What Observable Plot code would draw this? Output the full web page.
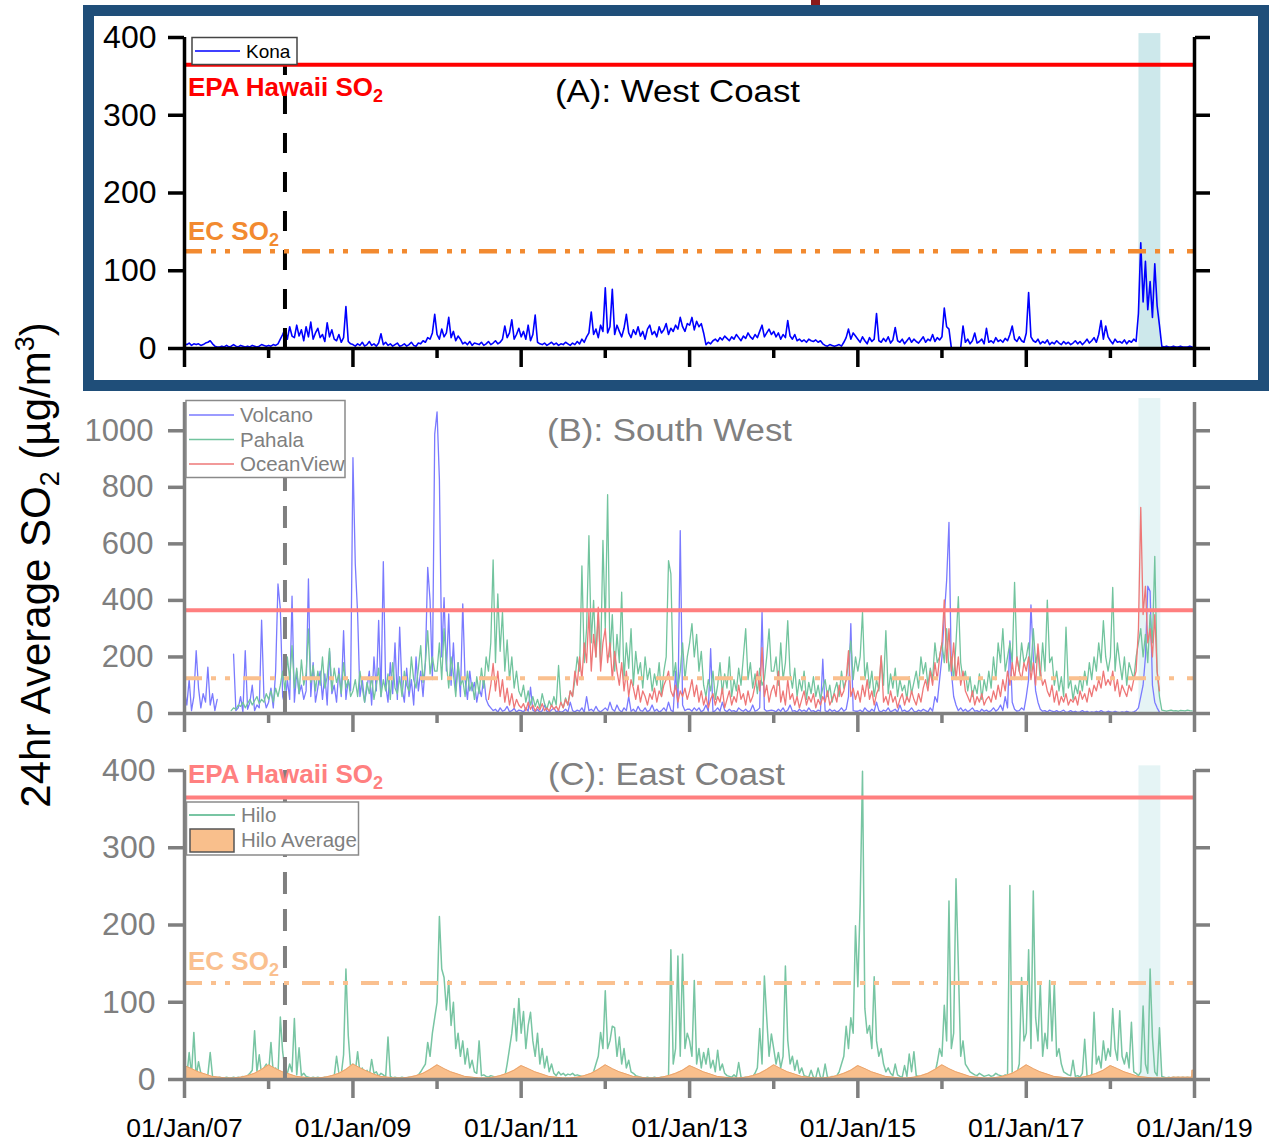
<!DOCTYPE html>
<html><head><meta charset="utf-8">
<script src="https://cdn.jsdelivr.net/npm/d3@7"></script>
<script src="https://cdn.jsdelivr.net/npm/@observablehq/plot@0.6"></script>
<style>
body{margin:0;background:#fff;}
#page{position:relative;width:1269px;height:1142px;overflow:hidden;background:#fff;}
#frameA{position:absolute;left:83px;top:5px;width:1186px;height:386px;border:11px solid #1f4e79;box-sizing:border-box;}
#topmark{position:absolute;left:811px;top:0;width:9px;height:5px;background:#8b1a1a;}
</style></head>
<body><div id="page"><div id="frameA"></div><div id="topmark"></div></div>
<script>
// ---------------- DATA (~36 readings per year) ----------------
const startYear = 2007;
const epaLimit = [365];
const ecLimit = [125];
const ventOpening = [new Date("2008-03-12")];
const eruption = [{start: new Date("2018-05-05"), end: new Date("2018-08-08")}];
const yTicksA = [0, 100, 200, 300, 400];
const yTicksB = [0, 200, 400, 600, 800, 1000];
const yTicksC = [0, 100, 200, 300, 400];
const majorYears = [2007, 2009, 2011, 2013, 2015, 2017, 2019];
const minorYears = [2008, 2010, 2012, 2014, 2016, 2018];
const xLabels = ["01/Jan/07", "01/Jan/09", "01/Jan/11", "01/Jan/13", "01/Jan/15", "01/Jan/17", "01/Jan/19"];

// Kona (panel A), one row per year 2007..2018
const kona = [
 [6,5,7,4,6,5,6,4,5,7,8,10,6,3,2,2,3,2,4,2,3,5,3,2,4,3,2,3,2,4,3,2,3,5,4,3],
 [4,3,5,4,6,12,18,25,12,28,16,14,30,16,24,10,28,15,34,12,20,26,14,18,9,33,15,24,12,10,18,8,14,54,9,6],
 [5,3,6,4,8,3,5,9,4,6,3,7,19,5,8,4,6,3,5,7,3,4,6,3,5,8,4,3,7,6,10,8,14,12,20,44],
 [18,12,25,15,20,40,14,22,10,16,12,6,8,5,9,4,7,6,5,8,4,6,9,5,7,10,6,8,12,29,14,20,37,12,18,26],
 [15,22,12,30,10,18,43,8,6,5,7,4,6,8,5,7,4,6,5,8,6,4,7,5,9,6,12,8,15,20,47,18,25,14,30,22],
 [78,20,28,76,18,30,22,15,26,44,20,14,24,18,28,16,22,12,25,30,18,22,15,28,20,24,32,18,26,22,30,25,40,28,22,32],
 [30,40,24,35,28,32,20,5,8,6,10,12,9,14,11,16,13,10,15,12,18,14,10,16,13,20,15,12,18,14,22,30,15,20,25,18],
 [22,15,20,12,18,14,36,16,12,18,10,12,9,11,8,12,10,9,11,8,10,6,4,3,5,4,3,4,5,3,8,14,25,12,20,16],
 [12,8,15,10,6,14,9,12,45,10,8,13,9,15,7,11,27,10,8,12,6,10,14,8,12,9,7,11,15,8,12,10,18,9,14,11],
 [15,52,28,25,1,0,1,0,1,29,8,12,6,10,20,7,9,12,6,26,8,10,7,14,9,11,8,13,10,18,29,12,9,15,10,8],
 [20,72,15,10,8,12,6,9,7,11,5,8,6,10,7,5,9,6,8,5,7,10,6,9,5,8,12,7,10,14,8,18,36,12,29,15],
 [10,6,12,8,9,7,11,6,10,8,12,9,45,136,60,112,50,86,40,109,55,30,3,2,3,2,2,3,2,2,3,2,2,2,3,2]
];

// Volcano (panel B)
const volcano = [
 [80,30,120,10,60,222,90,20,70,40,164,30,70,10,50,null,null,null,null,null,null,210,10,20,60,5,222,15,40,100,10,30,20,330,60,20],
 [40,90,20,150,458,370,60,30,120,50,415,40,150,70,100,50,80,476,60,180,40,90,150,50,140,30,220,70,100,40,160,60,293,50,120,80],
 [905,529,352,60,120,40,90,150,30,200,80,329,60,537,100,40,180,70,250,50,305,90,40,160,60,120,30,200,80,150,60,180,517,400,120,988],
 [1067,829,200,410,150,352,100,250,80,180,60,388,120,50,150,80,110,40,90,60,130,50,30,20,10,15,5,20,8,12,25,6,10,18,5,12],
 [10,5,20,8,93,12,6,15,4,10,30,8,5,12,20,6,10,4,8,15,5,40,10,6,12,8,20,5,60,10,15,8,25,10,6,12],
 [20,10,40,15,8,30,12,5,20,10,60,8,15,5,25,10,8,20,6,12,30,8,15,5,10,20,8,40,12,6,150,20,647,30,10,15],
 [15,8,20,10,20,6,12,30,8,229,5,10,20,8,40,12,6,15,8,10,5,20,12,8,15,6,10,30,8,12,20,358,15,8,10,12],
 [10,6,15,8,20,5,12,30,8,10,5,15,8,12,6,20,8,10,5,12,8,192,10,6,15,8,12,5,10,20,8,15,60,318,10,8],
 [8,12,5,20,10,6,15,8,40,10,5,12,8,20,6,10,15,5,30,8,12,6,10,20,8,5,12,8,15,10,6,20,8,60,40,120],
 [200,345,470,676,150,60,30,10,20,8,15,6,12,20,8,10,5,15,8,12,6,10,20,8,15,30,10,60,20,257,40,15,8,10,20,12],
 [60,120,384,200,80,40,15,8,10,5,12,8,6,10,5,8,12,4,6,10,5,8,4,6,10,5,8,3,6,4,8,5,10,6,4,8],
 [6,4,8,5,3,6,4,8,5,3,6,10,20,60,100,200,450,432,100,40,20,5,null,null,null,null,null,null,null,null,null,null,null,null,null,null]
];

// Pahala (panel B)
const pahala = [
 [null,null,null,null,null,null,null,null,null,null,null,null,null,null,null,null,null,null,null,null,10,20,15,30,25,40,20,35,50,30,45,60,35,50,40,70],
 [50,80,40,90,60,100,150,80,200,120,240,90,160,70,190,100,140,299,110,170,80,150,100,200,90,130,230,80,160,110,140,70,180,90,120,60],
 [80,120,60,150,90,40,110,70,130,50,100,160,60,120,80,140,50,180,90,70,130,60,150,100,80,200,120,90,160,240,110,180,293,140,200,150],
 [150,250,120,300,180,90,200,140,60,180,100,120,60,150,80,110,50,130,70,160,90,200,150,250,543,180,423,220,358,150,260,120,200,90,150,80],
 [60,100,40,80,30,60,25,50,20,70,35,15,45,25,60,30,170,40,20,55,30,80,60,120,200,150,522,180,300,629,250,400,200,350,180,612],
 [300,774,200,350,150,280,180,429,120,250,160,300,100,220,140,180,90,200,120,160,80,140,100,180,60,150,200,541,494,120,180,90,150,250,120,200],
 [250,318,200,280,150,220,100,60,120,80,150,50,100,180,70,140,90,200,60,120,80,160,100,200,300,120,180,90,140,70,160,100,120,200,299,150],
 [150,200,100,250,120,180,328,140,90,160,60,120,80,150,50,110,70,130,60,100,50,90,120,60,100,40,80,110,60,150,90,120,180,257,120,200],
 [150,200,358,120,180,90,150,60,120,80,200,100,293,70,140,90,160,60,120,80,100,50,130,70,110,150,90,200,140,180,100,160,120,250,180,200],
 [250,180,300,150,200,120,250,413,180,120,150,80,130,60,100,70,140,50,120,80,150,90,200,120,250,180,300,150,200,250,180,464,200,150,250,180],
 [200,250,150,300,180,220,120,250,150,401,180,200,100,150,80,130,60,305,90,120,50,100,70,130,80,150,100,180,120,200,150,250,180,328,200,150],
 [200,446,150,250,180,120,200,100,180,150,120,200,250,300,200,280,180,350,250,556,150,60,12,10,8,10,12,9,10,8,11,10,9,12,10,9]
];

// OceanView (panel B)
const oceanView = [
 [null,null,null,null,null,null,null,null,null,null,null,null,null,null,null,null,null,null,null,null,null,null,null,null,null,null,null,null,null,null,null,null,null,null,null,null],
 [null,null,null,null,null,null,null,null,null,null,null,null,null,null,null,null,null,null,null,null,null,null,null,null,null,null,null,null,null,null,null,null,null,null,null,null],
 [null,null,null,null,null,null,null,null,null,null,null,null,null,null,null,null,null,null,null,null,null,null,null,null,null,null,null,null,null,null,null,null,null,null,null,null],
 [null,null,null,null,null,null,null,null,null,null,null,null,null,null,null,null,null,null,null,null,null,null,50,100,177,80,150,60,120,40,90,30,70,20,50,30],
 [20,35,10,40,15,30,8,25,12,35,10,20,8,30,15,25,10,40,20,50,30,80,60,150,100,200,120,250,180,358,150,280,200,376,150,250],
 [300,180,250,120,220,150,100,180,80,150,60,120,90,50,100,40,80,60,30,70,50,90,40,80,60,100,120,150,80,60,100,40,80,60,90,50],
 [80,120,60,100,40,80,30,60,20,50,70,30,60,40,90,20,50,80,30,60,40,100,50,70,30,80,40,60,100,150,80,233,60,100,40,80],
 [100,60,150,40,80,30,120,50,70,30,60,20,50,80,30,60,40,70,20,50,30,60,40,80,30,50,70,40,100,60,80,120,222,60,90,50],
 [80,40,100,60,120,50,80,30,70,90,205,40,60,30,80,40,60,20,50,70,30,60,40,80,50,30,70,40,90,120,80,150,100,180,120,200],
 [250,402,180,300,150,250,120,200,100,150,80,60,40,80,30,60,40,70,30,50,60,40,80,50,100,60,120,80,150,100,180,120,200,150,120,180],
 [150,200,120,180,100,246,150,100,120,80,60,100,40,80,30,60,40,70,30,50,40,60,30,80,50,70,40,90,60,100,80,120,90,150,100,120],
 [100,150,80,120,60,100,80,60,100,80,120,150,300,729,350,450,250,300,200,350,150,80,null,null,null,null,null,null,null,null,null,null,null,null,null,null]
];

// Hilo (panel C)
const hilo = [
 [8,5,35,6,61,4,23,8,5,3,6,35,4,3,2,3,2,2,3,2,2,3,2,3,2,4,3,5,8,12,63,10,32,6,15,20],
 [10,48,8,15,6,81,36,12,8,20,10,79,6,41,5,8,4,3,2,3,2,3,2,2,3,2,3,5,4,30,8,6,32,143,57,15],
 [20,10,36,8,15,6,12,5,26,8,10,4,8,6,3,55,4,2,3,2,2,3,2,2,3,2,3,4,6,10,15,20,48,30,60,80],
 [100,211,143,132,90,128,70,100,40,60,30,50,20,40,15,25,10,8,50,5,6,4,3,5,4,3,2,3,4,3,20,40,60,92,50,105],
 [60,88,40,70,87,50,30,60,20,40,15,30,10,20,8,5,10,6,8,5,7,6,8,5,6,5,4,3,5,4,6,10,20,30,61,40],
 [115,40,50,69,67,30,55,20,40,15,25,10,8,5,4,3,2,2,3,2,2,3,2,2,3,2,3,5,168,20,40,160,30,162,40,60],
 [50,30,128,20,40,15,35,20,40,15,25,10,38,12,20,8,5,4,3,6,3,22,3,2,3,2,3,4,8,15,66,20,134,80,30,59],
 [40,20,35,15,30,147,51,20,30,12,25,8,15,5,4,3,12,3,2,15,3,2,20,3,2,4,3,5,10,20,30,69,40,80,60,199],
 [120,228,399,92,60,70,40,133,50,30,40,20,10,15,8,5,20,6,4,3,18,4,33,10,36,5,4,3,2,3,4,3,5,8,22,40],
 [30,96,50,231,40,60,260,147,30,50,20,15,10,8,6,5,8,6,4,5,6,4,5,8,6,5,4,6,5,251,6,5,8,20,132,50],
 [60,168,40,244,80,50,124,30,60,40,128,50,124,30,40,20,10,8,6,5,25,4,5,3,8,52,5,4,6,87,20,30,15,50,25,40],
 [30,92,40,25,89,30,20,35,15,74,10,8,5,10,95,20,8,143,55,10,5,67,4,3,2,3,2,3,2,3,2,3,2,3,2,3]
];

// Hilo Average (panel C), value at the first day of each month
const hiloAverage = [
 [18,14,10,7,4,3,2,2,3,5,8,13],
 [19,14,10,7,4,3,2,2,3,5,8,13],
 [20,15,11,7,4,3,2,2,3,5,8,13],
 [19,14,10,7,4,3,2,2,3,5,8,12],
 [18,14,10,7,4,3,2,2,3,5,8,13],
 [19,14,10,7,4,3,2,2,3,5,8,12],
 [18,14,10,7,4,3,2,2,3,5,8,13],
 [19,14,10,7,4,3,2,2,3,5,8,12],
 [18,14,10,7,4,3,2,2,3,5,8,13],
 [19,14,10,7,4,3,2,2,3,5,8,13],
 [19,14,10,7,4,3,2,2,3,5,8,12],
 [18,14,10,7,4,3,2,2,2,3,3,3]
];
const hiloAverageTail = [["2018-12-20", 3], ["2018-12-21", 12], ["2019-01-01", 12]];

// ---------------- BUILD ----------------
function toSeries(rows) {
  const out = [];
  rows.forEach((row, i) => {
    const t0 = Date.UTC(startYear + i, 0, 1), t1 = Date.UTC(startYear + i + 1, 0, 1);
    row.forEach((v, k) => out.push({date: new Date(t0 + (t1 - t0) * k / row.length), value: v}));
  });
  return out;
}
function monthlySeries(rows, tail) {
  const out = [];
  rows.forEach((row, i) => row.forEach((v, m) => out.push({date: new Date(Date.UTC(startYear + i, m, 1)), value: v})));
  tail.forEach(([d, v]) => out.push({date: new Date(d), value: v}));
  return out;
}
const X0 = new Date(Date.UTC(2007, 0, 1)), X1 = new Date(Date.UTC(2019, 0, 1));
const majorDates = majorYears.map(y => new Date(Date.UTC(y, 0, 1)));
const minorDates = minorYears.map(y => new Date(Date.UTC(y, 0, 1)));
const labelMap = new Map(majorDates.map((d, i) => [+d, xLabels[i]]));

const FONT = "Liberation Sans, Arial, Helvetica, sans-serif";
const ECDASH = "18,9,5,9,5,13";

function axes({yTicks, color, labelFill, fontSize, padY, showX}) {
  return [
    Plot.ruleX([X0], {stroke: color, strokeWidth: 3.5}),
    Plot.ruleX([X1], {stroke: color, strokeWidth: 3.5}),
    Plot.ruleY([0], {stroke: color, strokeWidth: 3.5}),
    Plot.axisY({anchor: "left", ticks: yTicks, tickSize: 16, tickPadding: padY, stroke: color, fill: labelFill, strokeWidth: 3.5, fontSize, tickFormat: d => String(d), label: null}),
    Plot.axisY({anchor: "right", ticks: yTicks, tickSize: 15, stroke: color, fill: "none", strokeWidth: 3.5, tickFormat: () => "", label: null}),
    Plot.axisX({anchor: "bottom", ticks: majorDates, tickSize: 19, tickPadding: 20, stroke: color, fill: "#000", strokeWidth: 3.5, fontSize: 26.5, tickFormat: showX ? (d => labelMap.get(+d)) : (() => ""), label: null}),
    Plot.axisX({anchor: "bottom", ticks: minorDates, tickSize: 10, stroke: color, fill: "none", strokeWidth: 3.5, tickFormat: () => "", label: null})
  ];
}
function place(svg, top) {
  svg.style.position = "absolute";
  svg.style.left = "0px";
  svg.style.top = top + "px";
  document.getElementById("page").appendChild(svg);
}
const baseStyle = {background: "none", fontFamily: FONT, overflow: "visible"};

// Panel A
const plotA = Plot.plot({
  width: 1269, height: 390, marginLeft: 184, marginRight: 75, marginTop: 37, marginBottom: 42,
  x: {type: "utc", domain: [X0, X1]}, y: {domain: [0, 400]}, style: baseStyle,
  marks: [
    Plot.rect(eruption, {x1: "start", x2: "end", y1: 0, y2: 405, fill: "#cde8eb"}),
    Plot.line(toSeries(kona), {x: "date", y: "value", stroke: "#0000ff", strokeWidth: 1.6}),
    Plot.ruleX(ventOpening, {y1: 0, y2: 400, stroke: "#000", strokeWidth: 4, strokeDasharray: "20,19"}),
    Plot.ruleY(epaLimit, {stroke: "#ff0000", strokeWidth: 4}),
    Plot.ruleY(ecLimit, {stroke: "#f28a30", strokeWidth: 4.5, strokeDasharray: ECDASH}),
    ...axes({yTicks: yTicksA, color: "#000", labelFill: "#000", fontSize: 32, padY: 12, showX: false})
  ]
});
place(plotA, 0);

// Panel B
const plotB = Plot.plot({
  width: 1269, height: 370, marginLeft: 184, marginRight: 75, marginTop: 12, marginBottom: 47,
  x: {type: "utc", domain: [X0, X1]}, y: {domain: [0, 1100]}, style: baseStyle,
  marks: [
    Plot.rect(eruption, {x1: "start", x2: "end", y1: 0, y2: 1114, fill: "#e5f4f5"}),
    Plot.line(toSeries(volcano), {x: "date", y: "value", stroke: "#7a7aff", strokeWidth: 1.3}),
    Plot.line(toSeries(pahala), {x: "date", y: "value", stroke: "#72c49e", strokeWidth: 1.3}),
    Plot.line(toSeries(oceanView), {x: "date", y: "value", stroke: "#ee7777", strokeWidth: 1.3}),
    Plot.ruleX(ventOpening, {y1: 0, y2: 1100, stroke: "#7f7f7f", strokeWidth: 4, strokeDasharray: "22,15"}),
    Plot.ruleY(epaLimit, {stroke: "#ff7f7f", strokeWidth: 4}),
    Plot.ruleY(ecLimit, {stroke: "#fac08f", strokeWidth: 4, strokeDasharray: ECDASH}),
    ...axes({yTicks: yTicksB, color: "#7f7f7f", labelFill: "#7f7f7f", fontSize: 31, padY: 15, showX: false})
  ]
});
place(plotB, 390);

// Panel C
const plotC = Plot.plot({
  width: 1269, height: 402, marginLeft: 184, marginRight: 75, marginTop: 30, marginBottom: 63,
  x: {type: "utc", domain: [X0, X1]}, y: {domain: [0, 400]}, style: baseStyle,
  marks: [
    Plot.rect(eruption, {x1: "start", x2: "end", y1: 0, y2: 406, fill: "#e5f4f5"}),
    Plot.line(toSeries(hilo), {x: "date", y: "value", stroke: "#78c5a3", strokeWidth: 1.5}),
    Plot.areaY(monthlySeries(hiloAverage, hiloAverageTail), {x: "date", y: "value", fill: "#f9bf8c"}),
    Plot.lineY(monthlySeries(hiloAverage, hiloAverageTail), {x: "date", y: "value", stroke: "#eba46c", strokeWidth: 1}),
    Plot.ruleX(ventOpening, {y1: 0, y2: 400, stroke: "#7f7f7f", strokeWidth: 4, strokeDasharray: "22,15"}),
    Plot.ruleY(epaLimit, {stroke: "#ff7f7f", strokeWidth: 4}),
    Plot.ruleY(ecLimit, {stroke: "#fac08f", strokeWidth: 4, strokeDasharray: ECDASH}),
    ...axes({yTicks: yTicksC, color: "#7f7f7f", labelFill: "#7f7f7f", fontSize: 32, padY: 13, showX: true})
  ]
});
place(plotC, 740);

// ---------------- Annotations, legends, axis title ----------------
const overlay = `
<svg width="1269" height="1142" style="position:absolute;left:0;top:0" font-family="${FONT}">
  <text transform="translate(50,565) rotate(-90)" text-anchor="middle" font-size="42" fill="#000">24hr Average SO<tspan font-size="27" dy="9">2</tspan><tspan dy="-9"> (µg/m</tspan><tspan font-size="27" dy="-16">3</tspan><tspan dy="16">)</tspan></text>

  <text x="188" y="96" font-size="26" font-weight="bold" fill="#ff0000">EPA Hawaii SO<tspan font-size="18" dy="6">2</tspan></text>
  <text x="188" y="240" font-size="26" font-weight="bold" fill="#f28a30">EC SO<tspan font-size="18" dy="6">2</tspan></text>
  <text x="555" y="102" font-size="31" fill="#000" textLength="245" lengthAdjust="spacingAndGlyphs">(A): West Coast</text>
  <rect x="192" y="37.5" width="105" height="27" fill="#fff" stroke="#444" stroke-width="1.5"/>
  <line x1="195" x2="240" y1="51" y2="51" stroke="#0000ff" stroke-width="1.5"/>
  <text x="246" y="58" font-size="19" fill="#000">Kona</text>

  <text x="547" y="441" font-size="31" fill="#808080" textLength="245" lengthAdjust="spacingAndGlyphs">(B): South West</text>
  <rect x="186" y="400.5" width="159" height="77" fill="#fff" stroke="#8a8a8a" stroke-width="1.5"/>
  <line x1="189" x2="234" y1="415" y2="415" stroke="#7a7aff" stroke-width="1.5"/>
  <line x1="189" x2="234" y1="439.5" y2="439.5" stroke="#72c49e" stroke-width="1.5"/>
  <line x1="189" x2="234" y1="464" y2="464" stroke="#ee7777" stroke-width="1.5"/>
  <text x="240" y="422" font-size="20.5" fill="#7f7f7f">Volcano</text>
  <text x="240" y="446.5" font-size="20.5" fill="#7f7f7f">Pahala</text>
  <text x="240" y="471" font-size="20.5" fill="#7f7f7f">OceanView</text>

  <text x="188" y="783" font-size="26" font-weight="bold" fill="#ff8080">EPA Hawaii SO<tspan font-size="18" dy="6">2</tspan></text>
  <text x="188" y="970" font-size="26" font-weight="bold" fill="#fac08f">EC SO<tspan font-size="18" dy="6">2</tspan></text>
  <text x="548" y="785" font-size="31" fill="#808080" textLength="237" lengthAdjust="spacingAndGlyphs">(C): East Coast</text>
  <rect x="186.5" y="802" width="172" height="53" fill="#fff" stroke="#8a8a8a" stroke-width="1.5"/>
  <line x1="189" x2="235" y1="815" y2="815" stroke="#78c5a3" stroke-width="1.8"/>
  <rect x="190" y="829" width="44" height="23" fill="#f9bf8c" stroke="#555" stroke-width="1.5"/>
  <text x="241" y="822" font-size="20.5" fill="#7f7f7f">Hilo</text>
  <text x="241" y="847" font-size="20.5" fill="#7f7f7f">Hilo Average</text>
</svg>`;
document.getElementById("page").insertAdjacentHTML("beforeend", overlay);
</script>
</body></html>
